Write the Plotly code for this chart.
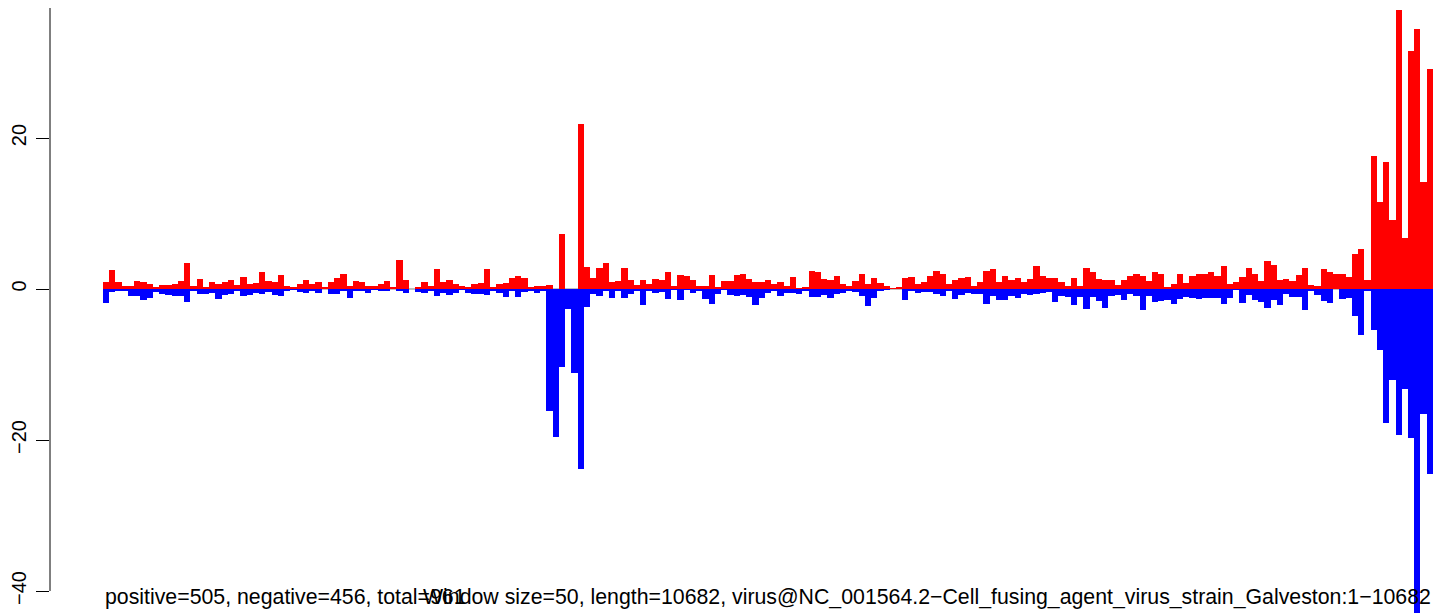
import numpy as np
import plotly.graph_objects as go

# window values (window size 50)
positive = [
    0.93, 2.5, 0.93, 0.4, 0.4, 1.06, 0.93, 0.66, 0.18, 0.53,
    0.53, 0.66, 1.06, 3.44, 0.4, 1.32, 0.18, 0.93, 0.66, 0.93,
    1.19, 0.53, 1.59, 0.66, 0.8, 2.25, 1.06, 0.93, 1.85, 0.4,
    0.26, 0.66, 1.19, 0.66, 0.93, 0.18, 0.93, 1.46, 2.0, 0.4,
    1.06, 0.93, 0.4, 0.4, 0.66, 1.06, 0.18, 3.84, 1.19, 0.0,
    0.18, 0.93, 0.4, 2.65, 0.93, 1.19, 0.66, 0.4, 0.18, 0.66,
    0.8, 2.65, 0.18, 0.66, 0.8, 1.46, 1.72, 1.46, 0.18, 0.4,
    0.4, 0.53, 0.0, 7.28, 0.0, 0.0, 21.85, 2.96, 1.5, 2.78,
    3.44, 0.93, 1.06, 2.78, 1.19, 0.53, 1.19, 0.66, 1.32, 1.19,
    2.25, 0.4, 1.85, 1.72, 1.19, 0.4, 0.4, 1.85, 0.26, 1.06,
    1.06, 1.85, 2.0, 1.32, 0.93, 0.93, 1.19, 0.66, 0.93, 0.4,
    1.59, 0.13, 0.26, 2.38, 2.25, 1.32, 1.19, 1.72, 0.66, 0.4,
    1.06, 2.0, 0.66, 1.46, 0.8, 0.4, 0.13, 0.26, 1.46, 1.59,
    0.66, 0.93, 1.72, 2.38, 2.0, 0.66, 1.19, 1.46, 1.59, 0.4,
    0.93, 2.38, 2.65, 0.93, 1.72, 1.19, 1.46, 0.93, 1.32, 3.05,
    1.72, 1.4, 1.46, 0.93, 0.4, 1.46, 0.4, 2.78, 2.25, 1.32,
    1.19, 1.19, 0.53, 1.19, 1.72, 2.0, 1.72, 1.06, 2.25, 2.0,
    0.26, 0.66, 2.0, 0.8, 1.72, 2.0, 2.0, 2.25, 1.72, 3.05,
    0.66, 0.93, 1.59, 2.78, 2.0, 1.06, 3.7, 3.2, 1.24, 1.34,
    1.03, 1.9, 2.78, 0.57, 0.41, 2.68, 2.27, 2.0, 2.0, 1.6,
    4.6, 5.36, 1.13, 17.6, 11.5, 16.8, 9.1, 37.0, 6.7, 31.5,
    34.4, 14.2, 29.1,
]
negative = [
    1.81, 0.35, 0.18, 0.18, 0.88, 0.88, 1.41, 1.15, 0.35, 0.62,
    0.75, 0.88, 0.88, 1.68, 0.18, 0.7, 0.62, 0.49, 1.28, 0.75,
    0.62, 0.18, 0.88, 0.75, 0.49, 0.62, 0.35, 0.75, 0.88, 0.22,
    0.1, 0.35, 0.49, 0.22, 0.49, 0.0, 0.62, 0.62, 0.26, 1.15,
    0.22, 0.22, 0.49, 0.1, 0.22, 0.22, 0.0, 0.18, 0.49, 0.0,
    0.35, 0.49, 0.22, 0.88, 0.49, 0.75, 0.49, 0.1, 0.49, 0.62,
    0.62, 0.75, 0.22, 0.49, 1.0, 0.22, 1.0, 0.35, 0.22, 0.49,
    0.22, 16.2, 19.6, 10.3, 2.65, 11.1, 23.8, 2.34, 0.62, 0.88,
    0.22, 1.15, 0.22, 1.15, 0.62, 0.22, 2.07, 0.22, 0.49, 0.35,
    1.28, 0.1, 1.41, 0.1, 0.49, 0.22, 1.28, 1.94, 0.62, 0.1,
    0.75, 0.88, 0.75, 1.0, 2.07, 1.15, 0.49, 0.22, 0.88, 0.49,
    0.49, 0.62, 0.22, 1.0, 1.0, 0.75, 1.15, 0.62, 0.49, 0.22,
    0.35, 0.88, 2.2, 1.15, 0.22, 0.1, 0.0, 0.0, 1.41, 0.22,
    0.49, 0.35, 0.35, 0.62, 0.88, 0.22, 1.28, 0.75, 0.49, 0.62,
    0.62, 1.94, 0.88, 1.41, 1.41, 0.88, 1.15, 0.62, 0.75, 0.62,
    0.49, 0.4, 1.68, 0.88, 1.0, 2.07, 1.0, 2.6, 1.0, 1.55,
    2.47, 0.88, 0.75, 1.41, 0.62, 0.88, 2.74, 0.88, 1.68, 1.55,
    1.41, 1.94, 1.28, 1.0, 1.15, 1.28, 1.15, 1.15, 1.15, 1.94,
    1.15, 0.1, 1.81, 0.75, 1.41, 1.68, 2.47, 1.5, 2.16, 0.62,
    1.08, 1.08, 2.84, 0.26, 0.77, 1.6, 1.9, 0.0, 1.34, 1.24,
    3.6, 6.03, 0.26, 5.4, 8.1, 17.8, 12.1, 19.4, 13.3, 19.8,
    43.5, 16.6, 24.5,
]
tick_values = [-40, -20, 0, 20]
tick_labels = ["\u221240", "\u221220", "0", "20"]
left_text = "positive=505, negative=456, total=961"
right_text = ("Window size=50, length=10682, "
              "virus@NC_001564.2\u2212Cell_fusing_agent_virus_strain_Galveston:1\u221210682")

n = len(positive)
x = np.arange(n)
FONT = "Liberation Sans, Arial, Helvetica, sans-serif"

fig = go.Figure()
fig.add_trace(go.Bar(x=x, y=positive, width=1.0, marker=dict(color="#FF0000", line=dict(width=0)),
                     showlegend=False, hoverinfo="skip"))
fig.add_trace(go.Bar(x=x, y=[-v for v in negative], width=1.0,
                     marker=dict(color="#0000FF", line=dict(width=0)),
                     showlegend=False, hoverinfo="skip"))

# geometry (screen pixels of the target; the page body adds an 8px offset)
SCREEN_W, SCREEN_H = 1444, 613
OFF = 8
W, H = SCREEN_W - OFF, SCREEN_H - OFF
axis_px = 50
bar0_px = 103
bar_px = 6.244
zero_px = 289
unit_px = 7.55
x0 = -0.5 - (bar0_px - axis_px) / bar_px
x1 = -0.5 + (SCREEN_W - bar0_px) / bar_px
ytop = (zero_px - OFF) / unit_px
ybot = -(SCREEN_H - zero_px) / unit_px
text_y = (H - (597 - OFF)) / H

fig.update_layout(
    width=W, height=H,
    margin=dict(l=axis_px - OFF, r=0, t=0, b=0, pad=0, autoexpand=False),
    paper_bgcolor="white", plot_bgcolor="white",
    barmode="relative", bargap=0,
    font=dict(family=FONT, size=21, color="black"),
    xaxis=dict(range=[x0, x1], visible=False, showgrid=False, zeroline=False,
               automargin=False),
    yaxis=dict(range=[ybot, ytop], showgrid=False, zeroline=False, showline=False,
               automargin=False,
               tickmode="array", tickvals=tick_values, ticktext=tick_labels,
               ticks="outside", ticklen=13, tickwidth=1, tickcolor="black",
               ticklabelstandoff=2,
               tickangle=-90, tickfont=dict(family=FONT, size=20, color="black")),
    shapes=[
        dict(type="line", xref="x", yref="y", x0=-0.5, x1=n - 0.5, y0=0, y1=0,
             line=dict(color="#BEBEBE", width=2), layer="below"),
        dict(type="line", xref="paper", yref="y", x0=0, x1=0, y0=-40, y1=ytop,
             line=dict(color="black", width=1)),
    ],
    annotations=[
        dict(text=left_text, xref="x", yref="paper", x=-0.5, y=text_y,
             xanchor="left", yanchor="middle", showarrow=False,
             font=dict(family=FONT, size=21.3, color="black")),
        dict(text=right_text, xref="x", yref="paper", x=n - 0.5, y=text_y,
             xanchor="right", yanchor="middle", showarrow=False,
             font=dict(family=FONT, size=21.3, color="black")),
    ],
)

fig.write_html("out.html")
